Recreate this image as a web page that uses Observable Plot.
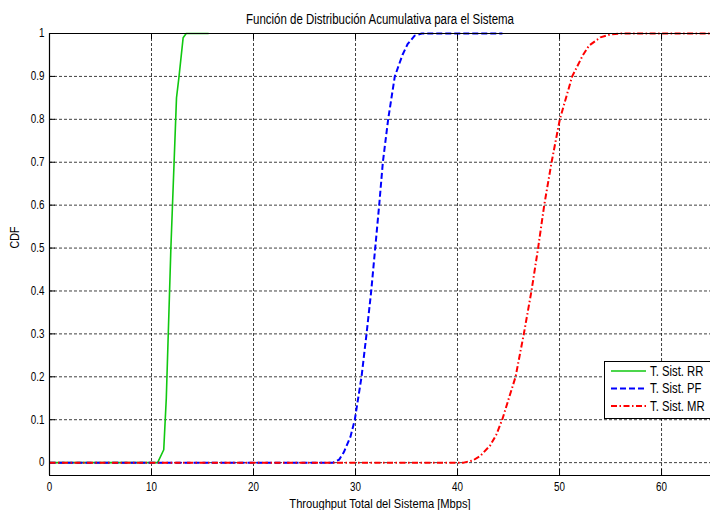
<!DOCTYPE html>
<html><head><meta charset="utf-8">
<script src="https://cdn.jsdelivr.net/npm/d3@7"></script>
<script src="https://cdn.jsdelivr.net/npm/@observablehq/plot@0.6"></script>
<style>body{margin:0;background:#fff} svg{display:block}</style>
</head><body><div id="chart"></div>
<script>
// ---- data ----
const rrX = [0, 10.6, 11.2, 11.45, 11.9, 12.45, 12.7, 13.1, 13.4, 15.6];
const rrY = [0, 0, 0.03, 0.15, 0.5, 0.85, 0.9, 0.99, 1, 1];
const pfX = [0, 27.8, 28.4, 28.85, 29.5, 29.93, 30.59, 31.08, 31.54, 31.93, 32.32, 32.68, 33.2, 33.85, 34.6, 35.1, 35.8, 36.5, 44.4];
const pfY = [0, 0, 0.007, 0.024, 0.06, 0.1, 0.2, 0.3, 0.4, 0.5, 0.6, 0.7, 0.8, 0.9, 0.95, 0.975, 0.995, 1, 1];
const mrX = [0, 40.6, 41.5, 42.25, 43.2, 43.8, 44.38, 45.69, 46.5, 47.25, 47.9, 48.5, 49.22, 50.03, 51.24, 52.3, 52.9, 54.0, 55.0, 56.0, 65];
const mrY = [0, 0, 0.005, 0.016, 0.04, 0.065, 0.1, 0.2, 0.3, 0.4, 0.5, 0.6, 0.7, 0.8, 0.9, 0.95, 0.972, 0.991, 0.998, 1, 1];
const seriesNames = ["T. Sist. RR", "T. Sist. PF", "T. Sist. MR"];
const xTicks = [0, 10, 20, 30, 40, 50, 60];
const yTicks = [0, 0.1, 0.2, 0.3, 0.4, 0.5, 0.6, 0.7, 0.8, 0.9, 1];
const titleText = "Función de Distribución Acumulativa para el Sistema";
const xLabelText = "Throughput Total del Sistema [Mbps]";
const yLabelText = "CDF";

// ---- styles ----
const colors = ["#10c810", "#0000ff", "#ff0000"];
const dashes = [null, "6,3", "6,2.5,1.5,2.5"];
const widths = [1.6, 2, 2];
const FONT = "'Liberation Sans', Arial, Helvetica, sans-serif";
const W = 710, H = 510, mL = 49, mR = 0, mT = 33, mB = 35;
const plotW = W - mL - mR, plotH = H - mT - mB;

const toRows = (xs, ys) => xs.map((x, i) => ({x, y: ys[i]}));
const series = [toRows(rrX, rrY), toRows(pfX, pfY), toRows(mrX, mrY)];

const chart = Plot.plot({
  width: W, height: H,
  marginLeft: mL, marginRight: mR, marginTop: mT, marginBottom: mB,
  style: {fontFamily: FONT, fontSize: "12px", background: "#fff", color: "#000"},
  x: {domain: [0, 64.8]},
  y: {domain: [-0.03, 1]},
  marks: [
    // grid
    Plot.ruleX(xTicks.slice(1), {x: d => d, stroke: "#000", strokeOpacity: 0.75, strokeDasharray: "3,2"}),
    Plot.ruleY(yTicks, {y: d => d, stroke: "#000", strokeOpacity: 0.75, strokeDasharray: "3,2"}),
    // inward ticks
    Plot.tickX(xTicks, {x: d => d, insetTop: plotH - 6, stroke: "#000"}),
    Plot.tickX(xTicks, {x: d => d, insetBottom: plotH - 6, stroke: "#000"}),
    Plot.tickY(yTicks, {y: d => d, insetRight: plotW - 6, stroke: "#000"}),
    // axes
    Plot.axisX({ticks: xTicks, tickSize: 0, tickPadding: 7, label: null, fontSize: 12, tickFormat: d => String(d)}),
    Plot.axisY({ticks: yTicks, tickSize: 0, tickPadding: 5, label: null, fontSize: 12, tickFormat: d => String(d)}),
    // series
    ...series.map((rows, i) => Plot.line(rows, {x: "x", y: "y", stroke: colors[i], strokeWidth: widths[i], strokeDasharray: dashes[i], strokeLinecap: "butt", strokeLinejoin: "miter"})),
    // box
    Plot.ruleX([0], {stroke: "#000", strokeWidth: 1.2}),
    Plot.ruleY([-0.03, 1], {stroke: "#000", strokeWidth: 1.2}),
    // titles
    Plot.text([titleText], {frameAnchor: "top", lineAnchor: "middle", dy: -14, fontSize: 14, text: d => d}),
    Plot.text([xLabelText], {frameAnchor: "bottom", lineAnchor: "middle", dy: 28, fontSize: 13.6, text: d => d}),
    Plot.text([yLabelText], {frameAnchor: "left", lineAnchor: "middle", dx: -35, dy: -6, rotate: -90, fontSize: 13, text: d => d})
  ]
});

document.getElementById("chart").appendChild(chart);

// condense text horizontally (MATLAB-like narrow Helvetica)
chart.querySelectorAll("text").forEach(t => {
  const L = t.getComputedTextLength();
  if (L > 0) {
    t.setAttribute("textLength", (L * 0.82).toFixed(2));
    t.setAttribute("lengthAdjust", "spacingAndGlyphs");
  }
});

// legend (texts condensed through a group scale)
const svg = d3.select(chart);
const lg = svg.append("g").attr("font-family", FONT).attr("font-size", 13.8).attr("text-anchor", "start");
lg.append("rect").attr("x", 604.5).attr("y", 361.5).attr("width", 120).attr("height", 57)
  .attr("fill", "#fff").attr("stroke", "#000");
seriesNames.forEach((name, i) => {
  const yy = 371 + i * 17.5;
  lg.append("line").attr("x1", 611).attr("x2", 646).attr("y1", yy).attr("y2", yy)
    .attr("stroke", colors[i]).attr("stroke-width", widths[i]).attr("stroke-dasharray", dashes[i]);
  lg.append("g").attr("transform", `translate(650,${yy}) scale(0.82,1)`)
    .append("text").attr("x", 0).attr("y", 0).attr("dy", "0.35em").text(name);
});
</script>
</body></html>
